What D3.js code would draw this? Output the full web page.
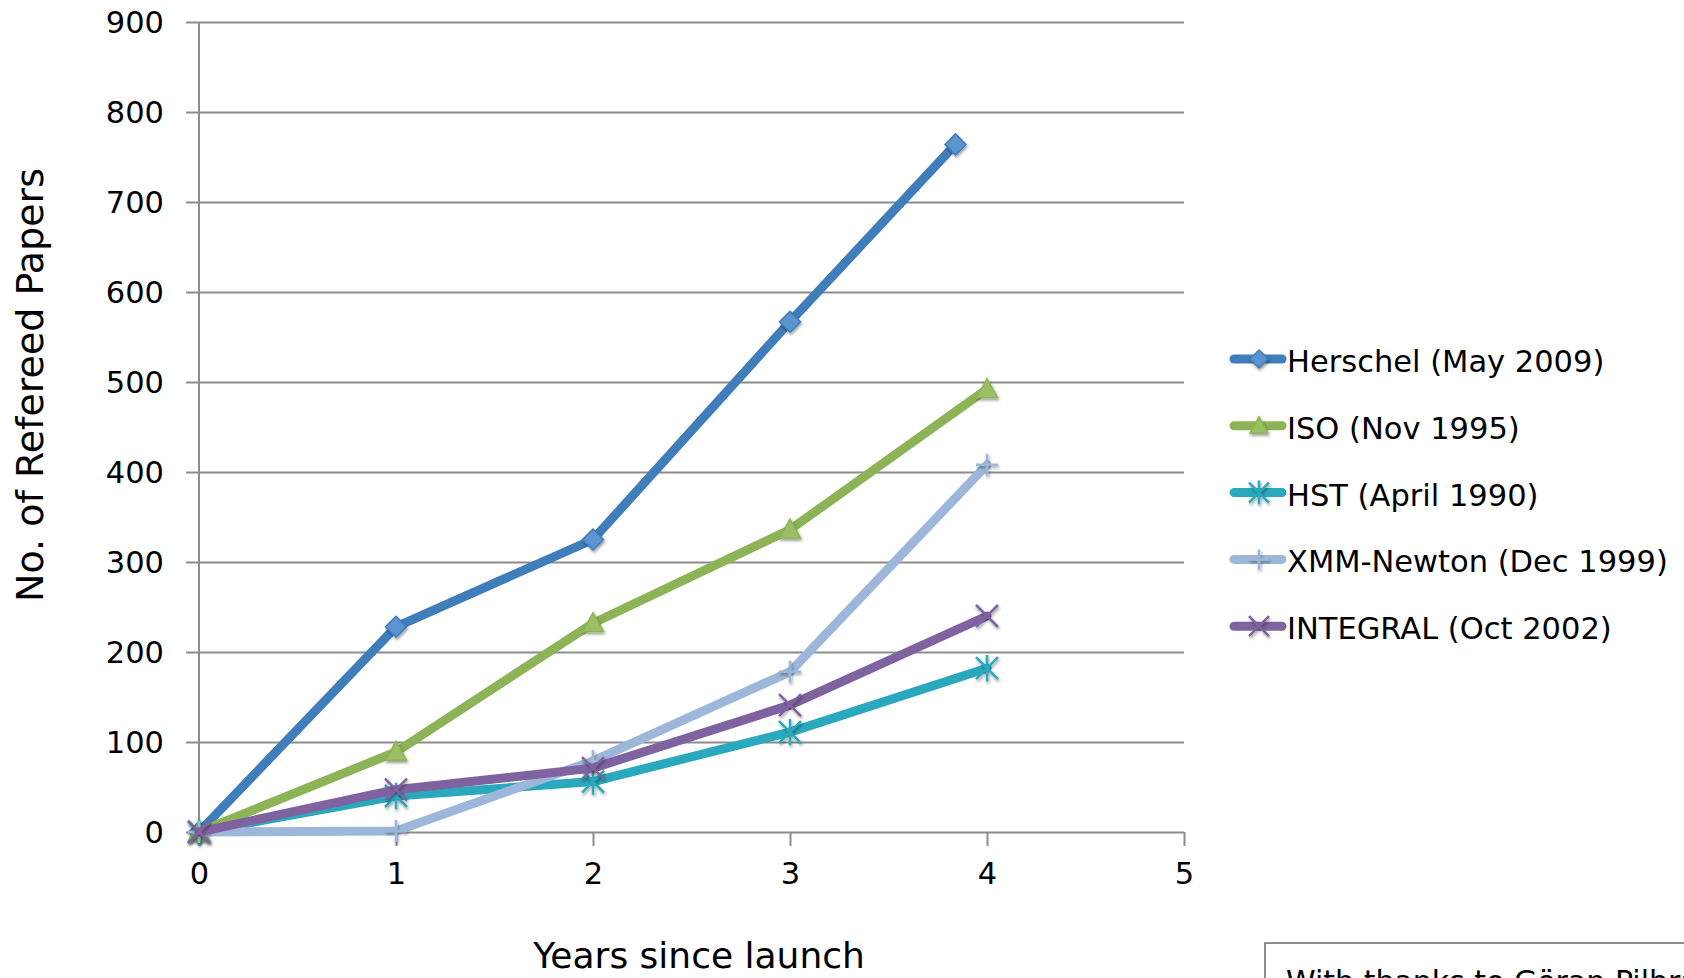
<!DOCTYPE html>
<html>
<head>
<meta charset="utf-8">
<script src="https://cdn.jsdelivr.net/npm/d3@7"></script>
<style>
body{margin:0;background:#fff;overflow:hidden;}
text{font-family:"DejaVu Sans",Verdana,sans-serif;fill:#000;}
</style>
</head>
<body>
<svg id="chart" width="1684" height="978"></svg>
<script>
// papers per year since launch
var seriesNames = ["Herschel (May 2009)","ISO (Nov 1995)","HST (April 1990)","XMM-Newton (Dec 1999)","INTEGRAL (Oct 2002)"];
var herschelYears = [0,1,2,3,3.84];
var otherYears = [0,1,2,3,4];
var herschelPapers = [0,228,325,567,764];
var isoPapers = [0,89,232,336,492];
var hstPapers = [0,40,56,111,182];
var xmmPapers = [0,1,79,178,408];
var integralPapers = [0,47,71,141,240];
var yTicks = [0,100,200,300,400,500,600,700,800,900];
var xTicks = [0,1,2,3,4,5];
var colors = ["#3f7dbb","#8db357","#2aa8bd","#9db7da","#7f62a0"];
var markerFill = ["#5b93d1","#9bc063","#2aa8bd","#9db7da","#7f62a0"];
var markerType = ["diamond","triangle","star","plus","cross"];

var svg = d3.select("#chart");
var x = d3.scaleLinear().domain([0,5]).range([199,1184]);
var y = d3.scaleLinear().domain([0,900]).range([832,22]);

var defs = svg.append("defs");
var f = defs.append("filter").attr("id","shadow").attr("x","-50%").attr("y","-50%").attr("width","200%").attr("height","200%");
f.append("feDropShadow").attr("dx",1).attr("dy",2).attr("stdDeviation",1.8).attr("flood-color","#000").attr("flood-opacity",0.4);

// y axis with gridlines
var yAxis = d3.axisLeft(y).tickValues(yTicks).tickSize(-(1184-199)).tickPadding(22).tickFormat(d3.format("d"));
var gy = svg.append("g").attr("transform","translate(199,0)").call(yAxis);
gy.select(".domain").remove();
gy.selectAll(".tick line").attr("x1",-13).attr("stroke","#8c8c8c").attr("stroke-width",2);
gy.selectAll(".tick text").attr("font-size",30.5).attr("dy","0.36em").attr("x",-35);
svg.append("line").attr("x1",199).attr("x2",199).attr("y1",y(900)).attr("y2",y(0)+1)
	.attr("stroke","#8c8c8c").attr("stroke-width",2);

// x axis
var xAxis = d3.axisBottom(x).tickValues(xTicks).tickSize(14).tickPadding(16).tickFormat(d3.format("d"));
var gx = svg.append("g").attr("transform","translate(0,"+y(0)+")").call(xAxis);
gx.select(".domain").remove();
gx.selectAll(".tick line").attr("stroke","#8c8c8c").attr("stroke-width",2);
gx.selectAll(".tick text").attr("font-size",30.5);

svg.append("text").attr("x",699).attr("y",968).attr("text-anchor","middle")
	.attr("font-size",36).text("Years since launch");
svg.append("text").attr("transform","translate(43,385) rotate(-90)").attr("text-anchor","middle")
	.attr("font-size",38).text("No. of Refereed Papers");

function markerPath(type,r){
	if(type==="diamond") return "M0,"+(-r)+"L"+r+",0L0,"+r+"L"+(-r)+",0Z";
	if(type==="triangle") return "M0,"+(-r)+"L"+r+","+(r*0.8)+"L"+(-r)+","+(r*0.8)+"Z";
	if(type==="plus") return "M"+(-r)+",0L"+r+",0M0,"+(-r)+"L0,"+r;
	if(type==="cross") return "M"+(-r)+","+(-r)+"L"+r+","+r+"M"+(-r)+","+r+"L"+r+","+(-r);
	if(type==="star") return "M"+(-r)+","+(-r)+"L"+r+","+r+"M"+(-r)+","+r+"L"+r+","+(-r)+"M0,"+(-r*1.2)+"L0,"+(r*1.2);
}
function drawMarker(g,i,cx,cy,r){
	var t = markerType[i];
	var m = g.append("path").attr("d",markerPath(t,r))
		.attr("transform","translate("+cx+","+cy+")")
		.attr("filter","url(#shadow)");
	if(t==="diamond"||t==="triangle")
		m.attr("fill",markerFill[i]).attr("stroke",colors[i]).attr("stroke-width",1.5);
	else
		m.attr("fill","none").attr("stroke",markerFill[i]).attr("stroke-width",2.5);
}

var allData = [
	d3.zip(herschelYears,herschelPapers),
	d3.zip(otherYears,isoPapers),
	d3.zip(otherYears,hstPapers),
	d3.zip(otherYears,xmmPapers),
	d3.zip(otherYears,integralPapers)
];
var line = d3.line().x(function(d){return x(d[0]);}).y(function(d){return y(d[1]);});
var plot = svg.append("g").attr("id","plot");
allData.forEach(function(pts,i){
	var g = plot.append("g");
	g.append("path").attr("d",line(pts)).attr("fill","none")
		.attr("stroke",colors[i]).attr("stroke-width",9)
		.attr("stroke-linejoin","round").attr("stroke-linecap","round");
	pts.forEach(function(p){
		drawMarker(g,i,x(p[0]),y(p[1]),i>=2?11:10.5);
	});
});

// legend
var leg = svg.append("g");
seriesNames.forEach(function(name,i){
	var ly = 359 + i*66.8;
	leg.append("line").attr("x1",1234).attr("x2",1282).attr("y1",ly).attr("y2",ly)
		.attr("stroke",colors[i]).attr("stroke-width",9).attr("stroke-linecap","round");
	drawMarker(leg,i,1259,ly,i>=2?10:9);
	leg.append("text").attr("x",1287).attr("y",ly+13).attr("font-size",30.5).text(name);
});

// credit box, cut at the bottom of the picture as in the original
svg.append("rect").attr("x",1265).attr("y",943).attr("width",480).attr("height",80)
	.attr("fill","#fff").attr("stroke","#666").attr("stroke-width",1.5);
svg.append("text").attr("x",1286).attr("y",992).attr("font-size",30).text("With thanks to Göran Pilbratt");
</script>
</body>
</html>
